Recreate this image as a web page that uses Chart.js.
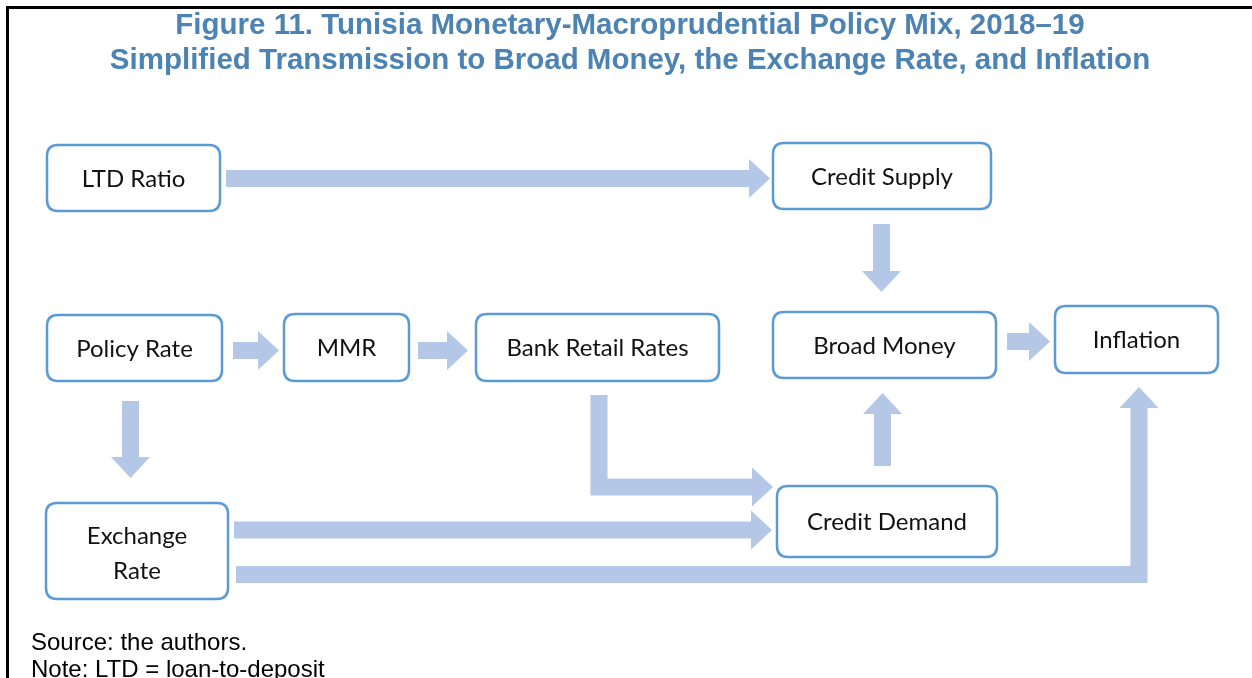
<!DOCTYPE html>
<html>
<head>
<meta charset="utf-8">
<title>Figure 11. Tunisia Monetary-Macroprudential Policy Mix</title>
<script src="https://cdn.jsdelivr.net/npm/chart.js@4/dist/chart.umd.min.js"></script>
<style>
  html, body { margin: 0; padding: 0; background: #fff; }
  #wrap { width: 1252px; height: 678px; position: relative; }
</style>
</head>
<body>
<div id="wrap"><canvas id="flow"></canvas></div>
<script>
// Text of the figure
const titleLines = [
  "Figure 11. Tunisia Monetary-Macroprudential Policy Mix, 2018\u201319",
  "Simplified Transmission to Broad Money, the Exchange Rate, and Inflation",
];
const footLines = ["Source: the authors.", "Note: LTD = loan-to-deposit"];

// Boxes (diagram units: left, top, right, bottom)
const boxLabels = [
  "LTD Ratio", "Credit Supply", "Policy Rate", "MMR", "Bank Retail Rates",
  "Broad Money", "Inflation", "Exchange\nRate", "Credit Demand",
];
const boxLeft   = [47, 773, 47, 284, 476, 773, 1055, 46, 777];
const boxTop    = [145, 143, 315, 314, 314, 312, 306, 503, 486];
const boxRight  = [220, 991, 222, 409, 719, 996, 1218, 228, 997];
const boxBottom = [211, 209, 381, 381, 381, 378, 373, 599, 557];

// Arrows as routes of [x, y] points, last point is the tip
const arrowRoutes = [
  [[226, 178.5], [770, 178.5]],                  // LTD Ratio -> Credit Supply
  [[881.5, 224], [881.5, 292]],                  // Credit Supply -> Broad Money
  [[233, 350.5], [279, 350.5]],                  // Policy Rate -> MMR
  [[418, 350.5], [468, 350.5]],                  // MMR -> Bank Retail Rates
  [[130.5, 401], [130.5, 478]],                  // Policy Rate -> Exchange Rate
  [[599, 395], [599, 487], [773, 487]],          // Bank Retail Rates -> Credit Demand
  [[234, 530], [772, 530]],                      // Exchange Rate -> Credit Demand
  [[236, 574.5], [1139, 574.5], [1139, 387]],    // Exchange Rate -> Inflation
  [[882.5, 466], [882.5, 393]],                  // Credit Demand -> Broad Money
  [[1007, 341.5], [1050, 341.5]],                // Broad Money -> Inflation
];

const W = 1252, H = 678;

function roundBox(ctx, x0, y0, x1, y1, r) {
  ctx.beginPath();
  ctx.moveTo(x0 + r, y0);
  ctx.lineTo(x1 - r, y0);
  ctx.quadraticCurveTo(x1, y0, x1, y0 + r);
  ctx.lineTo(x1, y1 - r);
  ctx.quadraticCurveTo(x1, y1, x1 - r, y1);
  ctx.lineTo(x0 + r, y1);
  ctx.quadraticCurveTo(x0, y1, x0, y1 - r);
  ctx.lineTo(x0, y0 + r);
  ctx.quadraticCurveTo(x0, y0, x0 + r, y0);
  ctx.closePath();
}

function drawArrow(ctx, pts, shaft, headW, headL) {
  const n = pts.length;
  const [ax, ay] = pts[n - 2];
  const [bx, by] = pts[n - 1];
  const len = Math.hypot(bx - ax, by - ay);
  const ux = (bx - ax) / len, uy = (by - ay) / len;
  const baseX = bx - ux * headL, baseY = by - uy * headL;

  ctx.beginPath();
  ctx.moveTo(pts[0][0], pts[0][1]);
  for (let i = 1; i < n - 1; i++) ctx.lineTo(pts[i][0], pts[i][1]);
  ctx.lineTo(baseX, baseY);
  ctx.lineWidth = shaft;
  ctx.lineCap = "butt";
  ctx.lineJoin = "miter";
  ctx.stroke();

  ctx.beginPath();
  ctx.moveTo(bx, by);
  ctx.lineTo(baseX - uy * headW / 2, baseY + ux * headW / 2);
  ctx.lineTo(baseX + uy * headW / 2, baseY - ux * headW / 2);
  ctx.closePath();
  ctx.fill();
}

const flowPlugin = {
  id: "flowDiagram",
  afterDraw(chart) {
    const { ctx, scales: { x, y } } = chart;
    const px = (v) => x.getPixelForValue(v);
    const py = (v) => y.getPixelForValue(v);

    ctx.save();

    // frame (only left and top edges are in view)
    ctx.strokeStyle = "#000";
    ctx.lineWidth = 3;
    ctx.beginPath();
    ctx.moveTo(px(7.5), py(H + 20));
    ctx.lineTo(px(7.5), py(7.5));
    ctx.lineTo(px(W + 20), py(7.5));
    ctx.stroke();

    // title
    ctx.fillStyle = "#4c83b2";
    ctx.font = "bold 29.5px 'Liberation Sans', Arial, sans-serif";
    ctx.textAlign = "center";
    ctx.textBaseline = "middle";
    ctx.fillText(titleLines[0], px(630), py(26));
    ctx.fillText(titleLines[1], px(630), py(61));

    // arrows
    ctx.strokeStyle = "#b4c7e7";
    ctx.fillStyle = "#b4c7e7";
    arrowRoutes.forEach((route) => {
      const pts = route.map(([a, b]) => [px(a), py(b)]);
      drawArrow(ctx, pts, 17, 39, 21);
    });

    // boxes
    ctx.font = "24px Lato, 'Open Sans', sans-serif";
    boxLabels.forEach((label, i) => {
      const x0 = px(boxLeft[i]), x1 = px(boxRight[i]);
      const y0 = py(boxTop[i]), y1 = py(boxBottom[i]);
      roundBox(ctx, x0, y0, x1, y1, 11);
      ctx.fillStyle = "#fff";
      ctx.fill();
      ctx.strokeStyle = "#5b9bd5";
      ctx.lineWidth = 2.5;
      ctx.stroke();

      ctx.fillStyle = "#111";
      const lines = label.split("\n");
      const multi = lines.length > 1;
      const cx = (x0 + x1) / 2, cy = (y0 + y1) / 2 + (multi ? 3 : 1);
      lines.forEach((ln, k) => {
        ctx.fillText(ln, cx, cy + (k - (lines.length - 1) / 2) * 35);
      });
    });

    // source and note
    ctx.fillStyle = "#000";
    ctx.textAlign = "left";
    ctx.textBaseline = "alphabetic";
    ctx.font = "24px 'Liberation Sans', Arial, sans-serif";
    ctx.fillText(footLines[0], px(31), py(650));
    ctx.fillText(footLines[1], px(31), py(677));

    ctx.restore();
  },
};

new Chart(document.getElementById("flow"), {
  type: "scatter",
  data: {
    datasets: [
      {
        label: "nodes",
        data: boxLabels.map((_, i) => ({
          x: (boxLeft[i] + boxRight[i]) / 2,
          y: (boxTop[i] + boxBottom[i]) / 2,
        })),
        pointRadius: 0,
      },
    ],
  },
  options: {
    responsive: true,
    maintainAspectRatio: false,
    animation: false,
    layout: { padding: 0 },
    plugins: {
      legend: { display: false },
      tooltip: { enabled: false },
    },
    scales: {
      x: { type: "linear", min: 0, max: W, display: false },
      y: { type: "linear", min: 0, max: H, reverse: true, display: false },
    },
  },
  plugins: [flowPlugin],
});
</script>
</body>
</html>
